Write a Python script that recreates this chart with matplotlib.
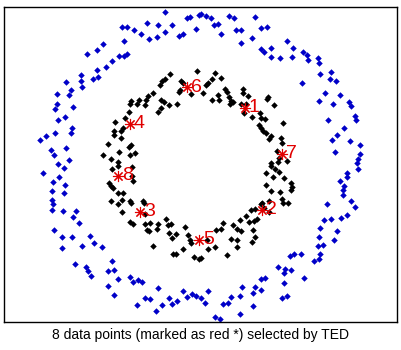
import numpy as np
import matplotlib
matplotlib.use("Agg")
import matplotlib.pyplot as plt

# point positions (x right, y down)
blue_pts = [
    (87, 54), (97, 50), (97, 70), (93, 79), (98, 77), (81, 75), (81, 81), (82, 87), (66, 82), (71, 90),
    (69, 95), (57, 94), (57, 104), (55, 109), (73, 107), (65, 117), (58, 120), (72, 128), (71, 133), (55, 133),
    (46, 136), (40, 140), (66, 148), (51, 150), (54, 155), (69, 160), (58, 164),
    (165, 12), (187, 18), (190, 17), (199, 15), (122, 27), (127, 27), (134, 30), (147, 23), (158, 25), (172, 25),
    (141, 34), (149, 39), (157, 37), (165, 32), (179, 36), (183, 34), (196, 29), (103, 44), (124, 41), (119, 56),
    (124, 56), (127, 54), (112, 61), (106, 67),
    (201, 14), (206, 16), (211, 18), (229, 16), (234, 18), (255, 17), (214, 25), (218, 24), (221, 34), (236, 30),
    (241, 30), (261, 28), (267, 27), (241, 43), (252, 38), (287, 41), (261, 49), (264, 52), (271, 48), (293, 48),
    (271, 57), (280, 58), (292, 57),
    (303, 52), (307, 55), (308, 60), (318, 58), (319, 63), (302, 83), (320, 74), (331, 72), (330, 79), (336, 81),
    (325, 93), (340, 95), (319, 101), (333, 104), (349, 102), (351, 106), (355, 116), (356, 120), (328, 120),
    (344, 128), (337, 135), (332, 140), (350, 141), (360, 145), (335, 152), (360, 154), (358, 159), (357, 163),
    (64, 168), (43, 173), (59, 177), (53, 182), (65, 185), (52, 191), (64, 193), (52, 200), (53, 204), (52, 210),
    (63, 211), (76, 211), (73, 217), (79, 223), (54, 230), (62, 237), (72, 237), (90, 236), (94, 243), (62, 248),
    (82, 246), (75, 264), (86, 267), (88, 271), (91, 276),
    (102, 247), (112, 261), (108, 271), (114, 270), (118, 279), (130, 277), (133, 282), (138, 280), (142, 282),
    (108, 286), (114, 295), (158, 288), (145, 298), (150, 299), (137, 305), (162, 305), (169, 298), (172, 304),
    (177, 301), (183, 291), (187, 297), (192, 294), (196, 296), (156, 311),
    (290, 256), (294, 254), (278, 267), (285, 269), (291, 270), (261, 279), (265, 278), (284, 273), (284, 283),
    (255, 287), (261, 290), (242, 287), (253, 293), (240, 296), (231, 297), (228, 303), (223, 304), (208, 291),
    (201, 298), (205, 303), (253, 306), (282, 298), (287, 296), (240, 314), (215, 317), (220, 319),
    (358, 169), (347, 173), (347, 177), (340, 181), (344, 186), (343, 190), (343, 195), (327, 204), (351, 201),
    (355, 207), (347, 215), (341, 218), (331, 219), (324, 220), (320, 228), (337, 231), (319, 237), (334, 240),
    (323, 245), (318, 246), (301, 254), (320, 254), (319, 259), (314, 261), (304, 278),
]

black_pts = [
    (170, 74), (197, 71), (165, 79), (162, 81), (160, 85), (181, 81), (183, 83), (180, 90), (179, 92), (191, 94),
    (153, 93), (148, 96), (146, 100), (145, 105), (139, 100), (137, 104), (131, 101), (130, 104), (129, 112),
    (161, 100), (164, 102), (169, 105), (177, 104), (161, 108), (158, 112), (125, 118), (115, 122), (123, 128),
    (121, 131), (114, 131), (114, 135), (121, 138), (108, 144), (131, 145), (129, 147), (119, 152), (135, 153),
    (130, 155), (103, 155), (111, 159), (118, 162),
    (215, 73), (212, 79), (221, 78), (208, 83), (206, 85), (203, 93), (225, 89), (227, 92), (229, 97), (231, 101),
    (230, 104), (233, 102), (218, 95), (212, 100), (219, 100), (243, 89), (243, 93), (248, 96), (241, 104),
    (246, 104), (244, 113), (252, 117), (260, 113), (261, 118), (265, 119), (268, 97), (267, 99), (274, 105),
    (259, 125), (261, 128), (263, 131), (266, 133), (269, 139), (271, 136), (283, 123), (281, 138), (282, 143),
    (277, 151), (287, 161), (279, 158), (271, 163),
    (118, 166), (132, 167), (112, 169), (132, 176), (133, 181), (109, 183), (111, 186), (113, 188), (118, 193),
    (123, 193), (111, 201), (118, 204), (122, 200), (130, 201), (131, 203), (122, 212), (143, 201), (144, 203),
    (145, 214), (130, 222), (133, 224), (145, 224), (150, 223), (147, 230), (149, 231), (157, 229), (158, 224),
    (166, 219), (168, 225), (171, 224), (169, 233), (176, 234), (172, 238), (185, 227), (188, 235), (190, 240),
    (191, 243), (153, 246), (183, 249), (173, 254), (176, 254), (194, 257), (199, 259),
    (271, 166), (278, 162), (275, 169), (279, 172), (266, 173), (284, 178), (273, 177), (291, 183), (292, 187),
    (291, 190), (266, 185), (271, 191), (280, 192), (283, 203), (288, 203), (282, 199), (262, 203), (261, 204),
    (269, 201), (269, 212), (264, 208), (251, 210), (255, 209), (246, 216), (249, 222), (254, 221), (257, 219),
    (240, 220), (233, 225), (237, 229), (241, 231), (223, 223), (221, 229), (216, 230), (253, 230), (255, 237),
    (252, 242), (231, 239), (237, 240), (237, 247), (227, 255), (207, 240), (208, 249), (215, 247), (201, 258),
]

# the 8 selected points
sel_x = [245, 262, 140, 130, 199, 187, 282, 118]
sel_y = [108, 210, 212, 124, 240, 87, 154, 176]
sel_labels = ["1", "2", "3", "4", "5", "6", "7", "8"]

blue = np.array(blue_pts)
black = np.array(black_pts)

fig = plt.figure(figsize=(4.01, 3.5), dpi=100)
ax = fig.add_axes([4 / 401, 28 / 350, 393 / 401, 315 / 350])

ax.plot(blue[:, 0], blue[:, 1], "D", color="#0000c8", ms=3.3, mew=0)
ax.plot(black[:, 0], black[:, 1], "D", color="black", ms=3.3, mew=0)
ax.plot(sel_x, sel_y, marker=(8, 2, 0), ls="none", color="#e00000", ms=8, mew=0.8)
for x, y, s in zip(sel_x, sel_y, sel_labels):
    ax.text(x + 4, y, s, color="#e00000", fontsize=14, va="center", ha="left",
            family="Liberation Sans")

ax.set_xlim(4, 397)
ax.set_ylim(322, 7)
ax.set_xticks([])
ax.set_yticks([])
for sp in ax.spines.values():
    sp.set_linewidth(1)

fig.text(0.5, 15 / 350, "8 data points (marked as red *) selected by TED",
         ha="center", va="center", fontsize=10, family="Liberation Sans")

fig.savefig("out.png", dpi=100)
